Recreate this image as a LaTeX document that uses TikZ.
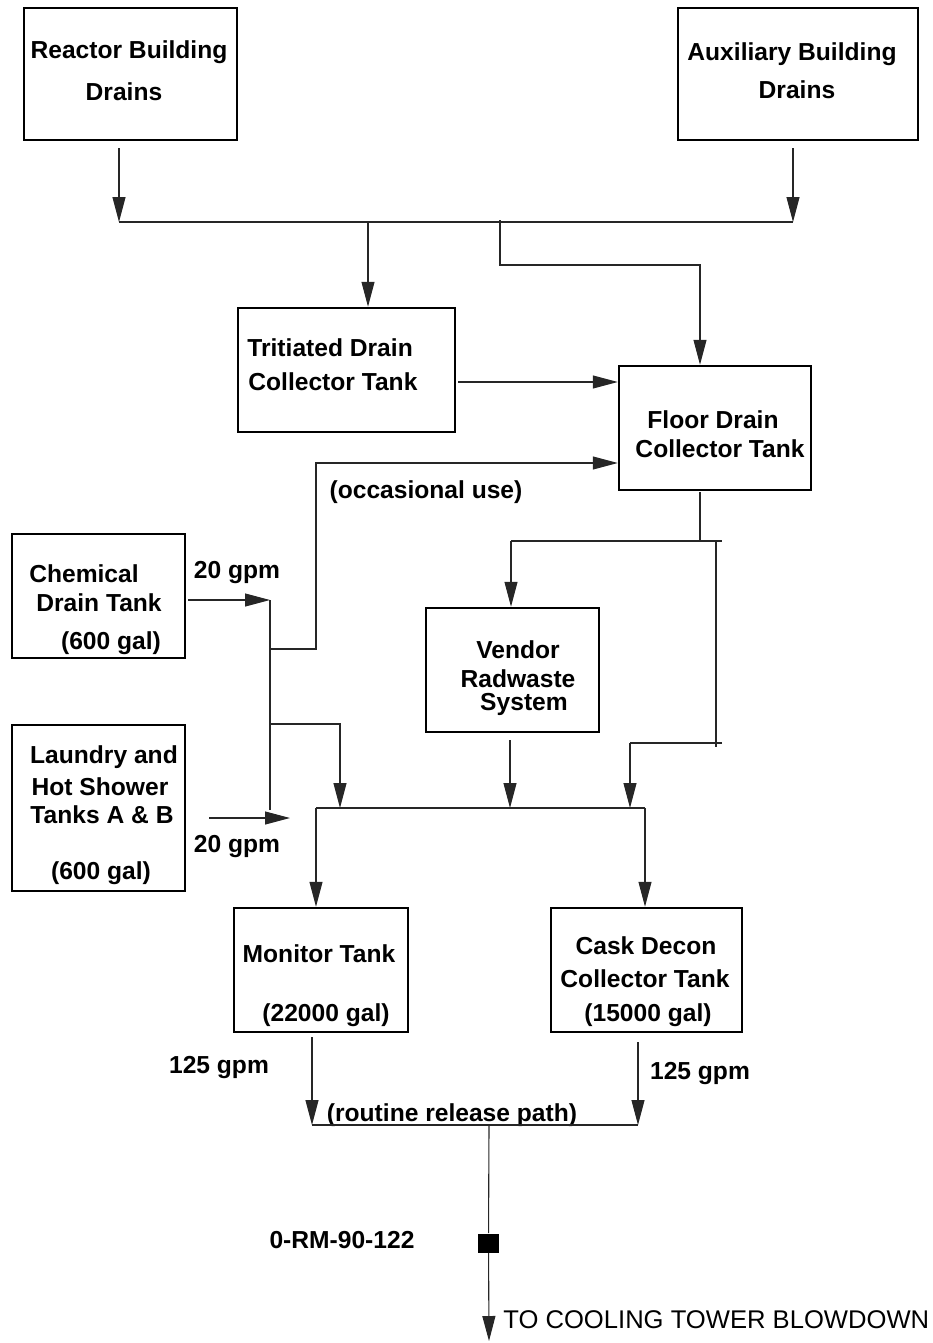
\documentclass[tikz,border=0pt]{standalone}
\usepackage{fontspec}
\setmainfont{Liberation Sans}
\usetikzlibrary{arrows.meta}
\tikzset{
  box/.style={draw=black, line width=1.25pt, inner sep=0pt},
  lbl/.style={font=\bfseries\fontsize{12.3}{14}\selectfont, inner sep=0pt, yshift=-1pt},
  pipe/.style={draw=black!85, line width=0.55pt},
  flow/.style={pipe, -{Triangle[length=12.5pt,width=6.5pt]}},
}
\begin{document}
\begin{tikzpicture}[x=0.5pt,y=-0.5pt]
\useasboundingbox (0,0) rectangle (932,1343);
% boxes
\node[box, minimum width=106.5pt, minimum height=66pt] (rbd) at (130.5,74) {};
\node[box, minimum width=120pt, minimum height=66pt] (abd) at (798,74) {};
\node[box, minimum width=108.5pt, minimum height=62pt] (trit) at (346.5,370) {};
\node[box, minimum width=96pt, minimum height=62pt] (floor) at (715,428) {};
\node[box, minimum width=86.5pt, minimum height=62pt] (chem) at (98.5,596) {};
\node[box, minimum width=86.5pt, minimum height=62pt] (vend) at (512.5,670) {};
\node[box, minimum width=86.5pt, minimum height=83pt] (laun) at (98.5,808) {};
\node[box, minimum width=87pt, minimum height=62pt] (moni) at (321,970) {};
\node[box, minimum width=95.5pt, minimum height=62pt] (cask) at (646.5,970) {};
% box texts
\node[lbl] (rbd1) at (129,50) {Reactor Building};
\node[lbl] (rbd2) at (124,90) {Drains};
\node[lbl] (abd1) at (792,52) {Auxiliary Building};
\node[lbl] (abd2) at (797,88) {Drains};
\node[lbl, anchor=west] (trit1) at (247,346) {Tritiated Drain};
\node[lbl, anchor=west] (trit2) at (248,380) {Collector Tank};
\node[lbl] (floor1) at (713,418) {Floor Drain};
\node[lbl] (floor2) at (720,447) {Collector Tank};
\node[lbl] (chem1) at (84,572) {Chemical};
\node[lbl] (chem2) at (99,601) {Drain Tank};
\node[lbl] (chem3) at (111,641) {(600 gal)};
\node[lbl] (vend1) at (518,648) {Vendor};
\node[lbl] (vend2) at (518,677) {Radwaste};
\node[lbl] (vend3) at (524,702) {System};
\node[lbl] (laun1) at (104,755) {Laundry and};
\node[lbl] (laun2) at (100,785) {Hot Shower};
\node[lbl] (laun3) at (102,813) {Tanks A \& B};
\node[lbl] (laun4) at (101,871) {(600 gal)};
\node[lbl] (moni1) at (319,952) {Monitor Tank};
\node[lbl] (moni2) at (326,1013) {(22000 gal)};
\node[lbl] (cask1) at (646,944) {Cask Decon};
\node[lbl] (cask2) at (645,977) {Collector Tank};
\node[lbl] (cask3) at (648,1013) {(15000 gal)};
% free labels
\node[lbl] (g1) at (237,571) {20 gpm};
\node[lbl] (g2) at (237,845) {20 gpm};
\node[lbl] (occ) at (426,490) {(occasional use)};
\node[lbl] (g3) at (219,1066) {125 gpm};
\node[lbl] (g4) at (700,1072) {125 gpm};
\node[lbl] (rout) at (452,1113) {(routine release path)};
\node[lbl] (rm) at (342,1238) {0-RM-90-122};
\node[font=\fontsize{12.8}{15}\selectfont, inner sep=0pt, anchor=west] (ctb) at (503,1320) {TO COOLING TOWER BLOWDOWN};
% radiation monitor
\node[fill=black, minimum width=10.5pt, minimum height=9.5pt, inner sep=0pt] (mon) at (488.5,1243) {};
% coordinates
\coordinate (rbdo) at (119,148);
\coordinate (abdo) at (793,148);
\coordinate (hL) at (119,222);
\coordinate (hR) at (793,222);
\coordinate (tA) at (368,222);
\coordinate (fA) at (500,220);
\coordinate (fB) at (500,265);
\coordinate (fC) at (700,265);
\coordinate (tf) at (458,382);
\coordinate (ch) at (188,600);
\coordinate (cv) at (270,600);
\coordinate (cvb) at (270,810);
\coordinate (oc1) at (270,649);
\coordinate (oc2) at (316,649);
\coordinate (oc3) at (316,463);
\coordinate (b1) at (270,724);
\coordinate (b2) at (340,724);
\coordinate (b3) at (340,808);
\coordinate (la) at (209,818);
\coordinate (la2) at (290,818);
\coordinate (hdL) at (316,808);
\coordinate (hdR) at (645,808);
\coordinate (vo) at (510,740);
\coordinate (vo2) at (510,808);
\coordinate (fo) at (700,492);
\coordinate (fo2) at (700,541);
\coordinate (s1) at (511,541);
\coordinate (s2) at (722,541);
\coordinate (r1) at (716,541);
\coordinate (r2) at (716,747);
\coordinate (r3) at (722,743);
\coordinate (r4) at (630,743);
\coordinate (r5) at (630,808);
\coordinate (mo) at (312,1037);
\coordinate (mo2) at (312,1125);
\coordinate (co) at (638,1042);
\coordinate (co2) at (638,1125);
\coordinate (rc) at (489,1125);
\coordinate (ctbt) at (489,1341);
% connectors
\draw[pipe] (hL) -- (hR);
\draw[flow] (rbdo) -- (hL);
\draw[flow] (abdo) -- (hR);
\draw[flow] (tA) -- (tA |- trit.north);
\draw[flow] (fA) -- (fB) -- (fC) -- (fC |- floor.north);
\draw[flow] (tf) -- (tf -| floor.west);
\draw[flow] (ch) -- (cv);
\draw[pipe] (cv) -- (cvb);
\draw[flow] (oc1) -- (oc2) -- (oc3) -- (oc3 -| floor.west);
\draw[flow] (b1) -- (b2) -- (b3);
\draw[flow] (la) -- (la2);
\draw[pipe] (hdL) -- (hdR);
\draw[flow] (hdL) -- (hdL |- moni.north);
\draw[flow] (hdR) -- (hdR |- cask.north);
\draw[flow] (vo) -- (vo2);
\draw[pipe] (fo) -- (fo2);
\draw[pipe] (s1) -- (s2);
\draw[flow] (s1) -- (s1 |- vend.north);
\draw[pipe] (r1) -- (r2);
\draw[pipe] (r3) -- (r4);
\draw[flow] (r4) -- (r5);
\draw[flow] (mo) -- (mo2);
\draw[flow] (co) -- (co2);
\draw[pipe] (mo2) -- (co2);
\draw[flow] (rc) -- (mon) -- (ctbt);
\end{tikzpicture}
\end{document}
